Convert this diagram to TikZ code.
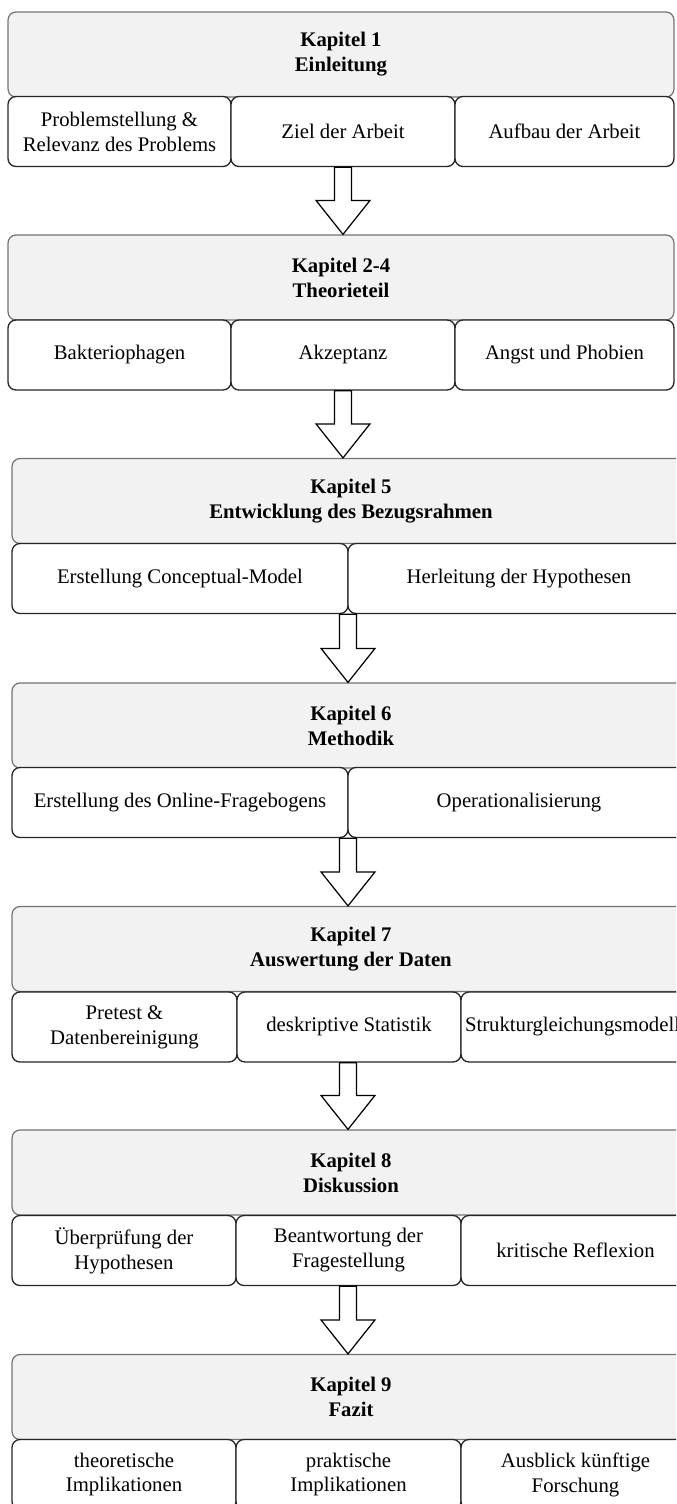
\documentclass[tikz,border=0pt]{standalone}
\usepackage{fontspec}
\setmainfont{Liberation Serif}
\usetikzlibrary{calc}

\begin{document}
\begin{tikzpicture}[
    x=0.02cm, y=-0.02cm,
    head/.style={
        rectangle, rounded corners=4.5pt, draw=black!55, line width=0.7pt,
        fill=black!5, inner sep=0pt, align=center, minimum height=1.7cm,
        font=\fontsize{11.8pt}{14.2pt}\selectfont\bfseries
    },
    sub/.style={
        rectangle, rounded corners=4.5pt, draw=black!85, line width=0.75pt,
        fill=white, inner sep=0pt, align=center, minimum height=1.4cm,
        font=\fontsize{11.8pt}{14.2pt}\selectfont
    },
    hollow/.style={
        draw=black, fill=white, line width=0.7pt, line join=miter,
        to path={($(\tikztostart)+(-8.5,0)$) -- ($(\tikztostart)+(8.5,0)$)
            -- ($(\tikztotarget)+(8.5,-34)$) -- ($(\tikztotarget)+(27,-34)$)
            -- (\tikztotarget) -- ($(\tikztotarget)+(-27,-34)$)
            -- ($(\tikztotarget)+(-8.5,-34)$) -- cycle}
    }
]
\useasboundingbox (0,0) rectangle (676,1504);
\clip (0,0) rectangle (676,1504);

% Kapitel 1
\node[head, minimum width=13.32cm] (k1) at (341,54.5) {Kapitel 1\\Einleitung};
\node[sub, minimum width=4.46cm] (s11) at (119.5,131.5) {Problemstellung \&\\Relevanz des Problems};
\node[sub, minimum width=4.48cm] (s12) at (343,131.5) {Ziel der Arbeit};
\node[sub, minimum width=4.38cm] (s13) at (564.5,131.5) {Aufbau der Arbeit};

% Kapitel 2-4
\node[head, minimum width=13.32cm] (k2) at (341,277.5) {Kapitel 2-4\\Theorieteil};
\node[sub, minimum width=4.46cm] (s21) at (119.5,355) {Bakteriophagen};
\node[sub, minimum width=4.48cm] (s22) at (343,355) {Akzeptanz};
\node[sub, minimum width=4.38cm] (s23) at (564.5,355) {Angst und Phobien};

% Kapitel 5
\node[head, minimum width=13.56cm] (k5) at (351,501) {Kapitel 5\\Entwicklung des Bezugsrahmen};
\node[sub, minimum width=6.72cm] (s51) at (180,578.5) {Erstellung Conceptual-Model};
\node[sub, minimum width=6.84cm] (s52) at (519,578.5) {Herleitung der Hypothesen};

% Kapitel 6
\node[head, minimum width=13.56cm] (k6) at (351,725.5) {Kapitel 6\\Methodik};
\node[sub, minimum width=6.72cm] (s61) at (180,802.5) {Erstellung des Online-Fragebogens};
\node[sub, minimum width=6.84cm] (s62) at (519,802.5) {Operationalisierung};

% Kapitel 7
\node[head, minimum width=13.56cm] (k7) at (351,949) {Kapitel 7\\Auswertung der Daten};
\node[sub, minimum width=4.5cm] (s71) at (124.5,1027) {Pretest \&\\Datenbereinigung};
\node[sub, minimum width=4.48cm] (s72) at (349,1027) {deskriptive Statistik};
\node[sub, minimum width=4.46cm] (s73) at (572.5,1027) {Strukturgleichungsmodell};

% Kapitel 8
\node[head, minimum width=13.56cm] (k8) at (351,1172.5) {Kapitel 8\\Diskussion};
\node[sub, minimum width=4.48cm] (s81) at (124,1250.5) {Überprüfung der\\Hypothesen};
\node[sub, minimum width=4.5cm] (s82) at (348.5,1250.5) {Beantwortung der\\Fragestellung};
\node[sub, minimum width=4.58cm] (s83) at (575.5,1250.5) {kritische Reflexion};

% Kapitel 9
\node[head, minimum width=13.56cm] (k9) at (351,1397) {Kapitel 9\\Fazit};
\node[sub, minimum width=4.48cm] (s91) at (124,1474.5) {theoretische\\Implikationen};
\node[sub, minimum width=4.5cm] (s92) at (348.5,1474.5) {praktische\\Implikationen};
\node[sub, minimum width=4.58cm] (s93) at (575.5,1474.5) {Ausblick künftige\\Forschung};

% Pfeile
\draw[hollow] (s12.south -| 343,0) to (k2.north -| 343,0);
\draw[hollow] (s22.south -| 343,0) to (k5.north -| 343,0);
\draw[hollow] (s51.south -| 348,0) to (k6.north -| 348,0);
\draw[hollow] (s61.south -| 348,0) to (k7.north -| 348,0);
\draw[hollow] (s72.south -| 348,0) to (k8.north -| 348,0);
\draw[hollow] (s82.south -| 348,0) to (k9.north -| 348,0);

\end{tikzpicture}
\end{document}
